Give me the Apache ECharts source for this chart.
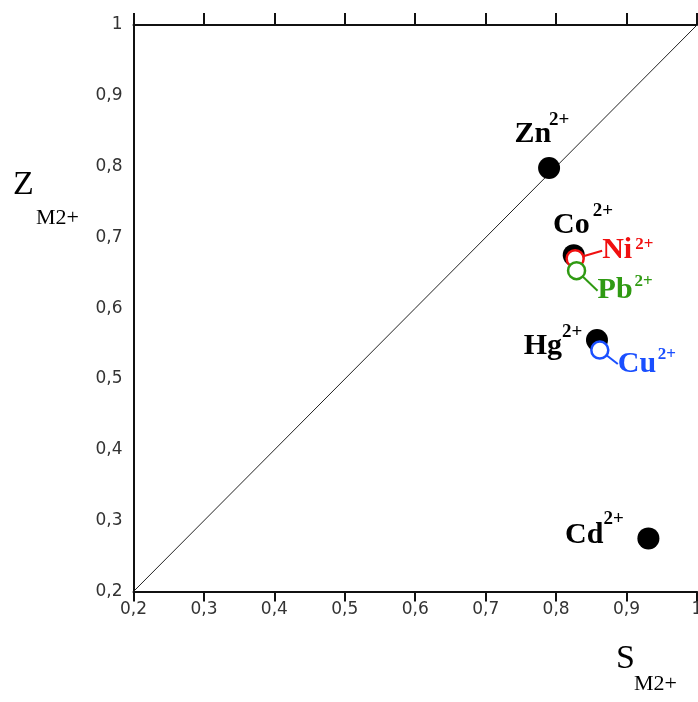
<!DOCTYPE html>
<html>
<head>
<meta charset="utf-8">
<script src="https://cdn.jsdelivr.net/npm/echarts@6/dist/echarts.min.js"></script>
<style>
html,body{margin:0;padding:0;background:#fff;}
#chart{width:698px;height:702px;}
</style>
</head>
<body>
<div id="chart"></div>
<script>
// ---- data ----
const ions = ['Zn', 'Co', 'Ni', 'Pb', 'Hg', 'Cu', 'Cd'];
const sValues = [0.790, 0.825, 0.827, 0.829, 0.858, 0.862, 0.931];
const zValues = [0.798, 0.675, 0.670, 0.653, 0.555, 0.541, 0.275];
const charge = '2+';
const filledIons = ['Zn', 'Co', 'Hg', 'Cd'];
const hollowIons = ['Ni', 'Pb', 'Cu'];
const diagonal = [[0.2, 0.2], [1, 1]];
const tickValues = [0.2, 0.3, 0.4, 0.5, 0.6, 0.7, 0.8, 0.9, 1];
const tickLabels = ['0,2', '0,3', '0,4', '0,5', '0,6', '0,7', '0,8', '0,9', '1'];

// ---- styling / layout (not data) ----
const ionColor = { Zn: '#000', Co: '#000', Hg: '#000', Cd: '#000', Ni: '#f01010', Pb: '#2f9a12', Cu: '#1a4fff' };
const baseLabelPos = {
  Zn: { align: 'right', dx: 2, dy: -34 },
  Co: { align: 'right', dx: 16, dy: -30 },
  Hg: { align: 'right', dx: -35, dy: 6 },
  Cd: { align: 'right', dx: -45, dy: -3 },
  Ni: { align: 'left', dx: 27, dy: -8 },
  Pb: { align: 'left', dx: 21, dy: 20 },
  Cu: { align: 'left', dx: 18, dy: 14 }
};
const supLabelPos = {
  Zn: { dx: 0, dy: -48 },
  Co: { dx: 19, dy: -44 },
  Hg: { dx: -35, dy: -8 },
  Cd: { dx: -45, dy: -19 },
  Ni: { dx: 60, dy: -14 },
  Pb: { dx: 58, dy: 11 },
  Cu: { dx: 58, dy: 5 }
};

function tickText(v) {
  for (let i = 0; i < tickValues.length; i++) {
    if (Math.abs(tickValues[i] - v) < 1e-6) return tickLabels[i];
  }
  return '';
}
function pointOf(name) {
  const i = ions.indexOf(name);
  return { name: name, value: [sValues[i], zValues[i]] };
}

const series = [];
series.push({
  type: 'line', data: diagonal, symbol: 'none', silent: true,
  lineStyle: { color: '#222', width: 1 }, z: 1, animation: false
});
// filled markers
series.push({
  type: 'scatter', z: 3, animation: false,
  symbol: 'circle', symbolSize: 22,
  itemStyle: { color: '#000', opacity: 1 },
  data: filledIons.map(pointOf),
  label: {
    show: true, position: 'inside',
    formatter: p => p.name,
    fontFamily: 'Liberation Serif', fontWeight: 'bold', fontSize: 30,
    color: '#000', opacity: 1, verticalAlign: 'middle',
    align: 'right'
  },
  labelLayout: p => {
    const n = filledIons[p.dataIndex];
    return { dx: baseLabelPos[n].dx, dy: baseLabelPos[n].dy, align: baseLabelPos[n].align };
  }
});
// hollow markers
hollowIons.forEach(n => {
  series.push({
    type: 'scatter', z: 4, animation: false,
    symbol: 'circle', symbolSize: 17,
    itemStyle: { color: '#fff', borderColor: ionColor[n], borderWidth: 2.5, opacity: 1 },
    data: [pointOf(n)],
    label: {
      show: true, position: 'inside',
      formatter: p => p.name,
      fontFamily: 'Liberation Serif', fontWeight: 'bold', fontSize: 30,
      color: ionColor[n], opacity: 1, verticalAlign: 'middle', align: 'left'
    },
    labelLine: { show: true, length2: 0, lineStyle: { color: ionColor[n], width: 2, opacity: 1 } },
    labelLayout: { dx: baseLabelPos[n].dx, dy: baseLabelPos[n].dy }
  });
});
// superscript charges
series.push({
  type: 'scatter', z: 5, animation: false, silent: true,
  symbol: 'circle', symbolSize: 1,
  itemStyle: { color: 'transparent', opacity: 1 },
  data: ions.map(n => {
    const d = pointOf(n);
    d.label = { color: ionColor[n], fontSize: (hollowIons.indexOf(n) >= 0 ? 17 : 19) };
    return d;
  }),
  label: {
    show: true, position: 'inside',
    formatter: () => charge,
    fontFamily: 'Liberation Serif', fontWeight: 'bold',
    fontSize: 19, verticalAlign: 'middle', align: 'left',
    color: '#000', opacity: 1
  },
  labelLayout: p => {
    const n = ions[p.dataIndex];
    return { dx: supLabelPos[n].dx, dy: supLabelPos[n].dy };
  }
});

const axisLineStyle = { color: '#111', width: 2 };
const option = {
  animation: false,
  backgroundColor: '#fff',
  grid: { left: 133.5, top: 25, right: 1, bottom: 110.5, containLabel: false, outerBoundsMode: 'none' },
  xAxis: [{
    type: 'value', min: 0.2, max: 1, interval: 0.1, position: 'bottom',
    axisLine: { show: true, onZero: false, lineStyle: axisLineStyle },
    axisTick: { show: true, inside: false, length: 10, lineStyle: axisLineStyle },
    splitLine: { show: false },
    axisLabel: {
      margin: 10, formatter: tickText, color: '#333',
      fontFamily: 'DejaVu Sans', fontSize: 17, showMinLabel: true, showMaxLabel: true
    }
  }, {
    type: 'value', min: 0.2, max: 1, interval: 0.1, position: 'top',
    axisLine: { show: true, onZero: false, lineStyle: axisLineStyle },
    axisTick: { show: true, inside: false, length: 12, lineStyle: axisLineStyle },
    splitLine: { show: false },
    axisLabel: { show: false }
  }],
  yAxis: [{
    type: 'value', min: 0.2, max: 1, interval: 0.1, position: 'left',
    axisLine: { show: true, onZero: false, lineStyle: axisLineStyle },
    axisTick: { show: false },
    splitLine: { show: false },
    axisLabel: {
      margin: 11, formatter: tickText, color: '#333',
      fontFamily: 'DejaVu Sans', fontSize: 17, showMinLabel: true, showMaxLabel: true
    }
  }],
  graphic: [
    { type: 'text', left: 13, top: 168, style: { text: 'Z', font: '34px "Liberation Serif"', fill: '#000' } },
    { type: 'text', left: 36, top: 207, style: { text: 'M2+', font: '22px "Liberation Serif"', fill: '#000' } },
    { type: 'text', left: 616, top: 642, style: { text: 'S', font: '34px "Liberation Serif"', fill: '#000' } },
    { type: 'text', left: 634, top: 673, style: { text: 'M2+', font: '22px "Liberation Serif"', fill: '#000' } }
  ],
  series: series
};

const chart = echarts.init(document.getElementById('chart'), null, { renderer: 'canvas' });
chart.setOption(option);
</script>
</body>
</html>
